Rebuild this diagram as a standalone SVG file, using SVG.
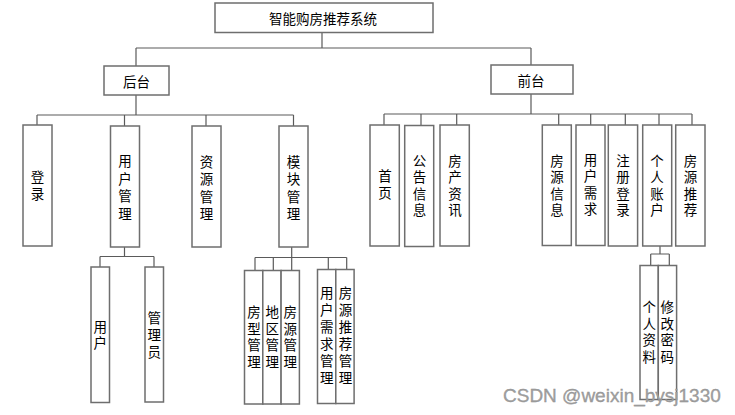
<svg xmlns="http://www.w3.org/2000/svg" width="735" height="415" viewBox="0 0 735 415">
  <style>
    .box { fill: #ffffff; stroke: #6e6e6e; stroke-width: 1.5; }
    .wire { fill: none; stroke: #5a5a5a; stroke-width: 1.2; }
    .lbl { font-family: "Noto Sans CJK SC", "Liberation Sans", sans-serif; font-size: 13.5px; fill: #000000; text-anchor: middle; dominant-baseline: central; }
    .vt { writing-mode: vertical-rl; text-orientation: upright; }
    .mark { font-family: "Liberation Sans", Arial, sans-serif; font-size: 19px; fill: #a0a0a0; stroke: #8c8c8c; stroke-width: 0.3; }
  </style>

  <!-- connectors -->
  <g id="connectors" class="wire">
    <!-- root to 后台 / 前台 -->
    <path d="M322,32 V48 M136,48 H531 M136,48 V66 M531,48 V65"/>
    <!-- 后台 children -->
    <path d="M136,95 V115 M37,115 H293.5 M37,115 V125 M124.5,115 V126 M206,115 V126 M293.5,115 V126"/>
    <!-- 前台 children -->
    <path d="M531,94 V114 M384,114 H692 M384,114 V125 M421,114 V125 M456.7,114 V125 M558.7,114 V125 M590.7,114 V125 M625.3,114 V125 M659,114 V125 M692,114 V125"/>
    <!-- 用户管理 children -->
    <path d="M124.5,247 V256.5 M100,256.5 H154 M100,256.5 V267 M154,256.5 V267"/>
    <!-- 模块管理 children -->
    <path d="M291.7,247 V257.5 M255,257.5 H346.7 M255,257.5 V270.5 M273.3,257.5 V270.5 M291.7,257.5 V270.5 M328.3,257.5 V269.5 M346.7,257.5 V269.5"/>
    <!-- 个人账户 children -->
    <path d="M660,246 V254 M650.7,254 H669.3 M650.7,254 V265.5 M669.3,254 V265.5"/>
  </g>

  <!-- root -->
  <g id="root">
    <rect class="box" x="215" y="3" width="218" height="29.5"/>
    <text class="lbl" x="323" y="18">智能购房推荐系统</text>
  </g>

  <!-- second level -->
  <g id="houtai">
    <rect class="box" x="104" y="66" width="65" height="29"/>
    <text class="lbl" x="136.5" y="81">后台</text>
  </g>
  <g id="qiantai">
    <rect class="box" x="491" y="65" width="82" height="29"/>
    <text class="lbl" x="531" y="80">前台</text>
  </g>

  <!-- 后台 modules (vertical labels) -->
  <g id="denglu">
    <rect class="box" x="23" y="125" width="29" height="121"/>
    <text class="lbl vt" x="37.5" y="187.2" letter-spacing="3.5">登录</text>
  </g>
  <g id="yonghuguanli">
    <rect class="box" x="110.5" y="126" width="29" height="121"/>
    <text class="lbl vt" x="125" y="189.2" letter-spacing="4">用户管理</text>
  </g>
  <g id="ziyuanguanli">
    <rect class="box" x="192" y="126" width="29" height="121"/>
    <text class="lbl vt" x="206.5" y="189.7" letter-spacing="4">资源管理</text>
  </g>
  <g id="mokuaiguanli">
    <rect class="box" x="279" y="126" width="29" height="121"/>
    <text class="lbl vt" x="293.5" y="189.7" letter-spacing="4">模块管理</text>
  </g>

  <!-- 用户管理 sub-items -->
  <g id="yonghu">
    <rect class="box" x="91" y="267" width="18.5" height="135.5"/>
    <text class="lbl vt" x="100.3" y="336.2" letter-spacing="2.5">用户</text>
  </g>
  <g id="guanliyuan">
    <rect class="box" x="145" y="267" width="18.5" height="135"/>
    <text class="lbl vt" x="154.3" y="336.7" letter-spacing="3.5">管理员</text>
  </g>

  <!-- 模块管理 sub-items -->
  <g id="fangxingguanli">
    <rect class="box" x="244.5" y="270.5" width="18.3" height="133.5"/>
    <text class="lbl vt" x="254" y="338.6" letter-spacing="3.2">房型管理</text>
  </g>
  <g id="diquguanli">
    <rect class="box" x="262.8" y="270.5" width="18.3" height="133.5"/>
    <text class="lbl vt" x="272.3" y="338.6" letter-spacing="3.2">地区管理</text>
  </g>
  <g id="fangyuanguanli">
    <rect class="box" x="281.1" y="270.5" width="18.3" height="133.5"/>
    <text class="lbl vt" x="290.3" y="338.6" letter-spacing="3.2">房源管理</text>
  </g>
  <g id="xuqiuguanli">
    <rect class="box" x="317.5" y="269.5" width="18.3" height="134"/>
    <text class="lbl vt" x="326.7" y="337.2" letter-spacing="3.5">用户需求管理</text>
  </g>
  <g id="tuijianguanli">
    <rect class="box" x="335.8" y="269.5" width="18.3" height="134"/>
    <text class="lbl vt" x="345.5" y="337.2" letter-spacing="3.5">房源推荐管理</text>
  </g>

  <!-- 前台 modules -->
  <g id="shouye">
    <rect class="box" x="370" y="125" width="29.3" height="121"/>
    <text class="lbl vt" x="385" y="186.2" letter-spacing="3.5">首页</text>
  </g>
  <g id="gonggao">
    <rect class="box" x="404.7" y="125.5" width="29" height="121"/>
    <text class="lbl vt" x="419.5" y="186.7" letter-spacing="3">公告信息</text>
  </g>
  <g id="zixun">
    <rect class="box" x="440" y="125" width="29.3" height="121"/>
    <text class="lbl vt" x="455" y="186.7" letter-spacing="3">房产资讯</text>
  </g>
  <g id="fangyuanxinxi">
    <rect class="box" x="542.3" y="125" width="29" height="120.5"/>
    <text class="lbl vt" x="557" y="186.7" letter-spacing="3">房源信息</text>
  </g>
  <g id="yonghuxuqiu">
    <rect class="box" x="576" y="125" width="29" height="120.5"/>
    <text class="lbl vt" x="590.5" y="185.7" letter-spacing="3">用户需求</text>
  </g>
  <g id="zhuce">
    <rect class="box" x="608.3" y="125" width="29.3" height="121"/>
    <text class="lbl vt" x="623" y="186.7" letter-spacing="3">注册登录</text>
  </g>
  <g id="gerenzhanghu">
    <rect class="box" x="642.7" y="125" width="29" height="121"/>
    <text class="lbl vt" x="657" y="186.7" letter-spacing="3">个人账户</text>
  </g>
  <g id="fangyuantuijian">
    <rect class="box" x="675.7" y="125" width="29.3" height="121"/>
    <text class="lbl vt" x="690.5" y="186.7" letter-spacing="3">房源推荐</text>
  </g>

  <!-- 个人账户 sub-items -->
  <g id="gerenziliao">
    <rect class="box" x="640" y="265.5" width="18.3" height="134"/>
    <text class="lbl vt" x="649.3" y="333.6" letter-spacing="3.2">个人资料</text>
  </g>
  <g id="xiugaimima">
    <rect class="box" x="658.3" y="265.5" width="18.3" height="134"/>
    <text class="lbl vt" x="667.3" y="333.6" letter-spacing="3.2">修改密码</text>
  </g>

  <!-- watermark -->
  <text class="mark" x="503" y="401.5">CSDN @weixin_bysj1330</text>
</svg>
